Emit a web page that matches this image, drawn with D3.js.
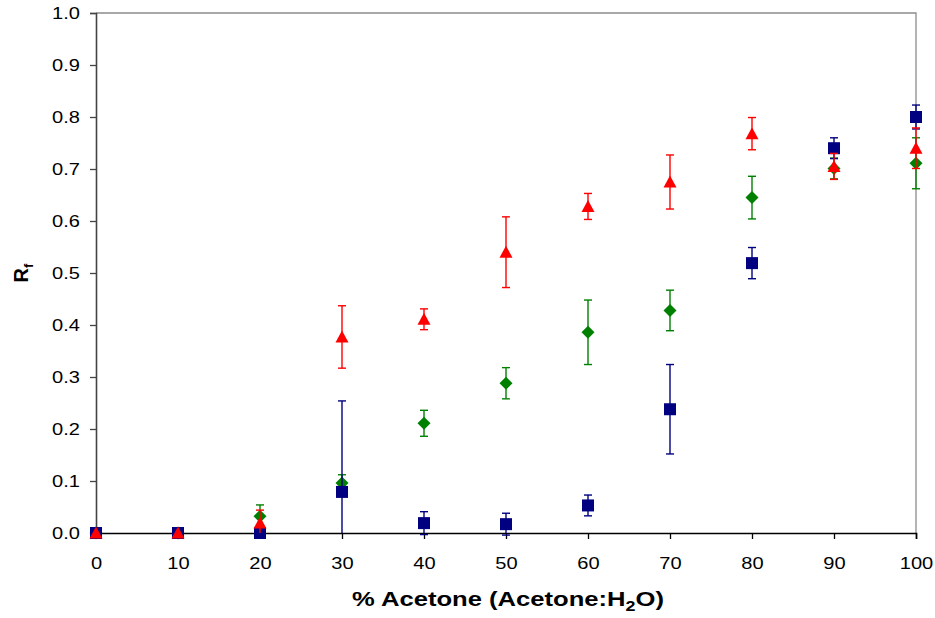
<!DOCTYPE html>
<html>
<head>
<meta charset="utf-8">
<script src="https://cdn.jsdelivr.net/npm/d3@7"></script>
<style>
  body { margin: 0; background: #fff; }
  svg { display: block; font-family: "Liberation Sans", Arial, sans-serif; }
</style>
</head>
<body>
<div id="chart"></div>
<script>
// ── Data ─────────────────────────────────────────────────────────────────
const acetone = [0, 10, 20, 30, 40, 50, 60, 70, 80, 90, 100];

const blueRf  = [0, 0, 0, 0.079, 0.019, 0.017, 0.053, 0.238, 0.519, 0.740, 0.800];
const blueErr = [0, 0, 0, 0.175, 0.022, 0.021, 0.020, 0.086, 0.030, 0.020, 0.023];

const greenRf  = [0, 0, 0.032, 0.096, 0.211, 0.288, 0.386, 0.428, 0.645, 0.701, 0.711];
const greenErr = [0, 0, 0.022, 0.016, 0.025, 0.030, 0.062, 0.039, 0.041, 0.020, 0.049];

const redRf  = [0, 0, 0.019, 0.377, 0.411, 0.540, 0.628, 0.675, 0.768, 0.705, 0.740];
const redErr = [0, 0, 0.025, 0.060, 0.020, 0.068, 0.025, 0.052, 0.031, 0.025, 0.039];

const yTicks = d3.range(0, 11).map(i => i / 10);

// draw order: green, blue, red (red on top)
const SERIES = [
    { name: "green", values: greenRf, err: greenErr, color: "#008000", shape: "diamond" },
    { name: "blue",  values: blueRf,  err: blueErr,  color: "#000080", shape: "square" },
    { name: "red",   values: redRf,   err: redErr,   color: "#FF0000", shape: "triangle" }
];

// ── Layout ───────────────────────────────────────────────────────────────
const W = 935, H = 618;
const margin = { top: 13, right: 19, bottom: 85, left: 96 };
const width  = W - margin.left - margin.right;
const height = H - margin.top - margin.bottom;
const STRETCH = 1.18;   // the original text is a little wider than Arial

const svg = d3.select("#chart").append("svg")
    .attr("width", W)
    .attr("height", H);

const g = svg.append("g")
    .attr("transform", `translate(${margin.left},${margin.top})`);

// ── Scales ───────────────────────────────────────────────────────────────
const x = d3.scaleLinear().domain([0, 100]).range([0, width]);
const y = d3.scaleLinear().domain([0, 1]).range([height, 0]);

// frame (top + right)
g.append("path")
    .attr("d", `M0,0H${width}V${height}`)
    .attr("fill", "none")
    .attr("stroke", "#8c8c8c")
    .attr("stroke-width", 1.3);

function widen(sel) {
    sel.each(function() {
        const w = this.getComputedTextLength();
        d3.select(this).attr("textLength", w * STRETCH).attr("lengthAdjust", "spacingAndGlyphs");
    });
}

// ── Axes ─────────────────────────────────────────────────────────────────
const yAxisG = g.append("g")
    .call(d3.axisLeft(y).tickValues(yTicks).tickFormat(d3.format(".1f")).tickSize(6).tickPadding(10));
yAxisG.select(".domain").attr("stroke", "#444").attr("stroke-width", 1.6);
yAxisG.selectAll(".tick line").attr("stroke", "#444").attr("stroke-width", 1.3);
yAxisG.selectAll("text").style("font-size", "17px").attr("fill", "#000").call(widen);

const xAxisG = g.append("g")
    .attr("transform", `translate(0,${height})`)
    .call(d3.axisBottom(x).tickValues(acetone).tickSize(6).tickPadding(18));
xAxisG.select(".domain").attr("stroke", "#000").attr("stroke-width", 1.6);
xAxisG.selectAll(".tick line").attr("stroke", "#000").attr("stroke-width", 1.3);
xAxisG.selectAll("text").style("font-size", "17px").attr("fill", "#000").call(widen);

// axis titles
const xTitle = svg.append("text")
    .attr("transform", "translate(508,606) scale(1.28,1)")
    .attr("text-anchor", "middle")
    .style("font-size", "20px")
    .style("font-weight", "bold");
xTitle.append("tspan").text("% Acetone (Acetone:H");
xTitle.append("tspan").attr("dy", 5).style("font-size", "14px").text("2");
xTitle.append("tspan").attr("dy", -5).text("O)");

const yTitle = svg.append("text")
    .attr("transform", "translate(28,273) rotate(-90)")
    .attr("text-anchor", "middle")
    .style("font-size", "20px")
    .style("font-weight", "bold");
yTitle.append("tspan").text("R");
yTitle.append("tspan").attr("dy", 5).style("font-size", "13px").text("f");

// ── Marks ────────────────────────────────────────────────────────────────
const plot = g.append("g");

function markerPath(shape) {
    if (shape === "square") return "M-6,-6H6V6H-6Z";
    if (shape === "diamond") return "M0,-6.5L6.5,0L0,6.5L-6.5,0Z";
    return "M0,-6.5L6.5,5.5H-6.5Z"; // triangle
}

SERIES.forEach(s => {
    const pts = acetone.map((a, i) => ({ a, v: s.values[i], e: s.err[i] }));
    const sg = plot.append("g");

    // error bars (clipped to axis at 0)
    const eb = sg.selectAll("g.err")
        .data(pts.filter(d => d.e > 0))
        .join("g").attr("class", "err")
        .attr("stroke", s.color)
        .attr("stroke-width", 1.4);

    eb.append("line")
        .attr("x1", d => x(d.a)).attr("x2", d => x(d.a))
        .attr("y1", d => y(d.v + d.e))
        .attr("y2", d => y(Math.max(0, d.v - d.e)));
    eb.append("line")
        .attr("x1", d => x(d.a) - 4).attr("x2", d => x(d.a) + 4)
        .attr("y1", d => y(d.v + d.e)).attr("y2", d => y(d.v + d.e));
    eb.filter(d => d.v - d.e >= -0.006).append("line")
        .attr("x1", d => x(d.a) - 4).attr("x2", d => x(d.a) + 4)
        .attr("y1", d => y(d.v - d.e)).attr("y2", d => y(d.v - d.e));

    sg.selectAll("path.pt")
        .data(pts)
        .join("path").attr("class", "pt")
        .attr("d", markerPath(s.shape))
        .attr("transform", d => `translate(${x(d.a)},${y(d.v)})`)
        .attr("fill", s.color);
});
</script>
</body>
</html>
